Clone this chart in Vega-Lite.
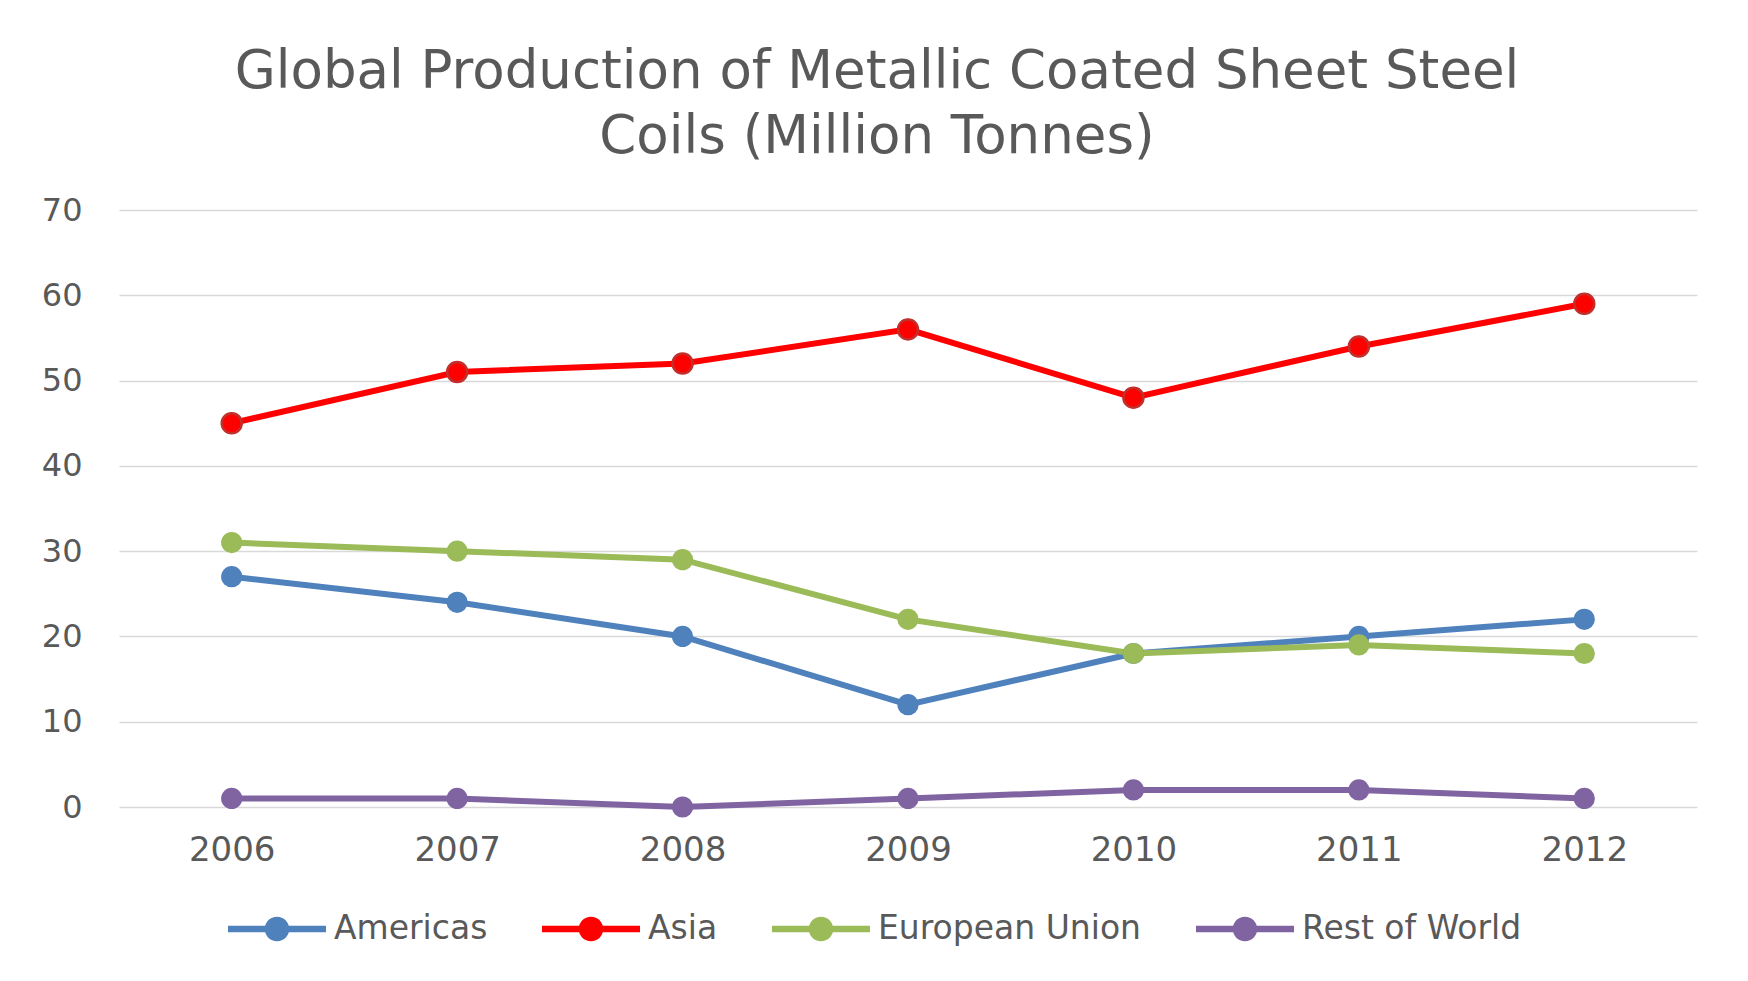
{
  "$schema": "https://vega.github.io/schema/vega-lite/v6.json",
  "width": 1578,
  "height": 597,
  "autosize": {"type": "none"},
  "padding": {"left": 119, "top": 210, "right": 51, "bottom": 174},
  "background": "white",
  "title": {
    "text": ["Global Production of Metallic Coated Sheet Steel", "Coils (Million Tonnes)"],
    "font": "DejaVu Sans",
    "fontSize": 53,
    "fontWeight": "normal",
    "color": "#595959",
    "anchor": "middle",
    "lineHeight": 65,
    "offset": 30,
    "dx": -31
  },
  "config": {
    "view": {"stroke": null},
    "axis": {
      "labelFont": "DejaVu Sans",
      "labelColor": "#595959",
      "domain": false,
      "ticks": false,
      "title": null
    }
  },
  "data": {
    "values": [
      {"year": "2006", "region": "Americas", "value": 27},
      {"year": "2007", "region": "Americas", "value": 24},
      {"year": "2008", "region": "Americas", "value": 20},
      {"year": "2009", "region": "Americas", "value": 12},
      {"year": "2010", "region": "Americas", "value": 18},
      {"year": "2011", "region": "Americas", "value": 20},
      {"year": "2012", "region": "Americas", "value": 22},
      {"year": "2006", "region": "Asia", "value": 45},
      {"year": "2007", "region": "Asia", "value": 51},
      {"year": "2008", "region": "Asia", "value": 52},
      {"year": "2009", "region": "Asia", "value": 56},
      {"year": "2010", "region": "Asia", "value": 48},
      {"year": "2011", "region": "Asia", "value": 54},
      {"year": "2012", "region": "Asia", "value": 59},
      {"year": "2006", "region": "European Union", "value": 31},
      {"year": "2007", "region": "European Union", "value": 30},
      {"year": "2008", "region": "European Union", "value": 29},
      {"year": "2009", "region": "European Union", "value": 22},
      {"year": "2010", "region": "European Union", "value": 18},
      {"year": "2011", "region": "European Union", "value": 19},
      {"year": "2012", "region": "European Union", "value": 18},
      {"year": "2006", "region": "Rest of World", "value": 1},
      {"year": "2007", "region": "Rest of World", "value": 1},
      {"year": "2008", "region": "Rest of World", "value": 0},
      {"year": "2009", "region": "Rest of World", "value": 1},
      {"year": "2010", "region": "Rest of World", "value": 2},
      {"year": "2011", "region": "Rest of World", "value": 2},
      {"year": "2012", "region": "Rest of World", "value": 1}
    ]
  },
  "encoding": {
    "x": {
      "field": "year",
      "type": "ordinal",
      "scale": {"type": "point", "padding": 0.5},
      "axis": {"labelAngle": 0, "labelFontSize": 34, "labelPadding": 26, "grid": false}
    },
    "y": {
      "field": "value",
      "type": "quantitative",
      "scale": {"domain": [0, 70], "nice": false},
      "axis": {
        "values": [0, 10, 20, 30, 40, 50, 60, 70],
        "labelFontSize": 32,
        "labelPadding": 37,
        "grid": true,
        "gridColor": "#D9D9D9",
        "gridWidth": 1.5
      }
    },
    "color": {
      "field": "region",
      "type": "nominal",
      "scale": {
        "domain": ["Americas", "Asia", "European Union", "Rest of World"],
        "range": ["#4F81BD", "#FF0000", "#9BBB59", "#8064A2"]
      },
      "legend": {
        "title": null,
        "orient": "none",
        "direction": "horizontal",
        "legendX": 109,
        "legendY": 670,
        "symbolType": "M-1,-0.065H1V0.065H-1Z M-0.25,0A0.25,0.25 0 1,1 0.25,0A0.25,0.25 0 1,1 -0.25,0Z",
        "symbolSize": 9604,
        "symbolStrokeWidth": 0,
        "symbolOpacity": 1,
        "labelFont": "DejaVu Sans",
        "labelFontSize": 33,
        "labelColor": "#595959",
        "labelLimit": 0,
        "labelOffset": 8,
        "columnPadding": 54
      }
    }
  },
  "layer": [
    {
      "mark": {"type": "line", "strokeWidth": 6}
    },
    {
      "mark": {"type": "point", "filled": true, "opacity": 1, "size": 450}
    },
    {
      "transform": [{"filter": "datum.region === 'Asia'"}],
      "mark": {"type": "point", "filled": true, "opacity": 1, "size": 400, "stroke": "#C0302D", "strokeWidth": 2.5}
    }
  ]
}
